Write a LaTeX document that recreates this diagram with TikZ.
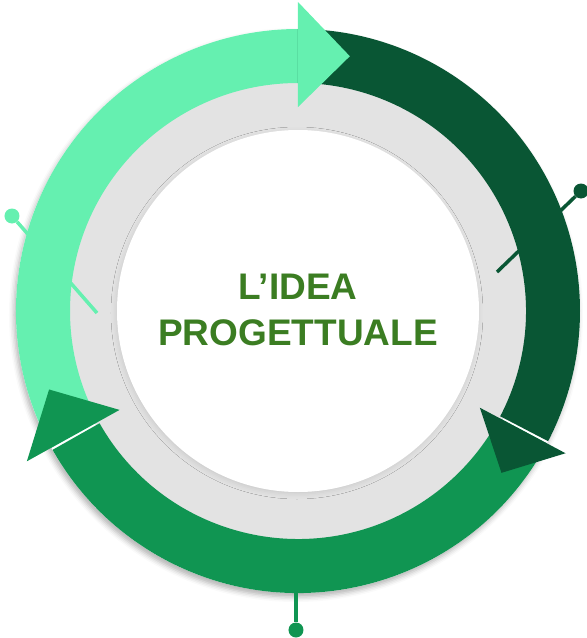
\documentclass[tikz,border=0pt]{standalone}
\usepackage{fontspec}
\setmainfont{Liberation Sans}
\usepackage{tikz}
\usetikzlibrary{shadows.blur}

\definecolor{mintgreen}{RGB}{101,240,176}
\definecolor{darkgreen}{RGB}{9,86,52}
\definecolor{midgreen}{RGB}{16,149,82}
\definecolor{ringgray}{RGB}{227,227,227}
\definecolor{titlegreen}{RGB}{59,125,34}

\begin{document}
\begin{tikzpicture}[x=1pt,y=1pt,
	pinline/.style={line width=3.5pt},
	pindot/.style={circle,fill,inner sep=0pt,minimum size=15pt},
	title/.style={text=titlegreen,font=\fontsize{37}{45}\selectfont\bfseries,anchor=base}]

	\useasboundingbox (-298,-327) rectangle (289,311);

	\coordinate (o) at (0,0);
	\fill[white,blur shadow={shadow xshift=-2pt,shadow yshift=-4pt,shadow blur radius=5pt,shadow opacity=30}] (o) circle (282pt);
	\fill[ringgray] (o) circle (232pt);
	\fill[white,blur shadow={shadow xshift=-1pt,shadow yshift=-2pt,shadow blur radius=5pt,shadow opacity=10}] (o) circle (181pt);

	\coordinate (r1) at (199,39);
	\node[pindot,darkgreen] (r2) at (283,120) {};
	\draw[pinline,darkgreen] (r1) -- (r2);

	\coordinate (l1) at (-201,-2);
	\node[pindot,mintgreen] (l2) at (-286,95) {};
	\draw[pinline,mintgreen] (l1) -- (l2);

	\coordinate (b1) at (-2,-250);
	\node[pindot,midgreen] (b2) at (-2,-319) {};
	\draw[pinline,midgreen] (b1) -- (b2);

	\fill[mintgreen] (209:282pt) arc[start angle=209,end angle=89.5,radius=282pt]
		-- (89.5:228pt) arc[start angle=89.5,end angle=209,radius=228pt] -- cycle;
	\fill[darkgreen] (90:282pt) arc[start angle=90,end angle=-27.5,radius=282pt]
		-- (-27.5:228pt) arc[start angle=-27.5,end angle=90,radius=228pt] -- cycle;
	\fill[midgreen] (-28:282pt) arc[start angle=-28,end angle=-150.5,radius=282pt]
		-- (-150.5:228pt) arc[start angle=-150.5,end angle=-28,radius=228pt] -- cycle;

	\fill[mintgreen] (90:204pt) -- (90:309pt) -- (78.5:260pt) -- cycle;
	\fill[darkgreen] (-28:206pt) -- (-28:303pt) -- (-38.5:260pt) -- cycle;
	\fill[midgreen] (209:204pt) -- (209:310pt) -- (197.5:261pt) -- cycle;

	\node[title] (t1) at (0,12) {L’IDEA};
	\node[title] (t2) at (0,-34) {PROGETTUALE};

\end{tikzpicture}
\end{document}
